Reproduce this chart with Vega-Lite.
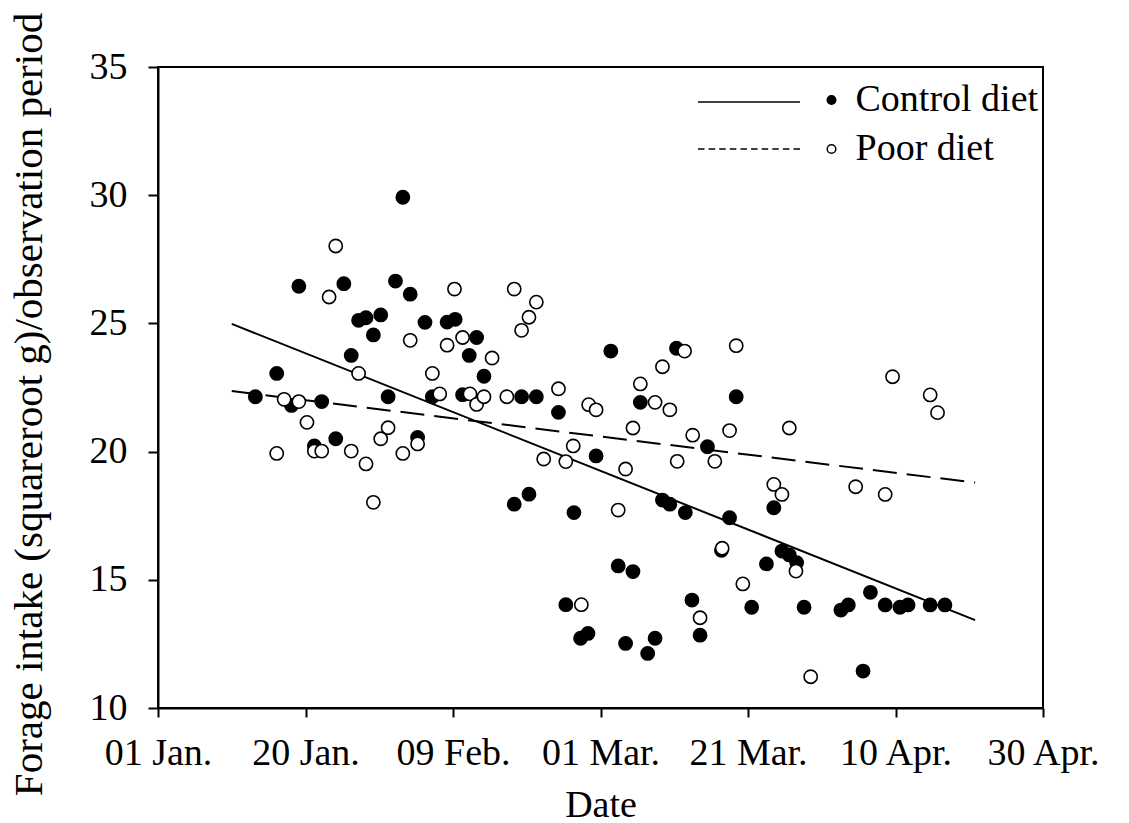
{
  "$schema": "https://vega.github.io/schema/vega-lite/v6.json",
  "width": 885,
  "height": 641,
  "autosize": {"type": "none"},
  "padding": {"left": 158, "top": 67, "right": 86, "bottom": 115},
  "background": "white",
  "config": {
    "view": {"stroke": "black", "strokeWidth": 2},
    "font": "Liberation Serif",
    "axis": {
      "domainColor": "black", "domainWidth": 2, "tickColor": "black", "tickWidth": 2,
      "labelColor": "black", "titleColor": "black", "labelFont": "Liberation Serif", "titleFont": "Liberation Serif",
      "labelFontSize": 38, "titleFontSize": 38, "titleFontWeight": "normal", "grid": false,
      "labelFlush": false, "labelOverlap": false
    },
    "legend": {"labelFont": "Liberation Serif", "labelFontSize": 38, "labelColor": "black", "labelLimit": 500}
  },
  "datasets": {
    "lines": [
      {"diet": "Control diet", "day": 10, "intake": 24.98},
      {"diet": "Control diet", "day": 110.8, "intake": 13.43},
      {"diet": "Poor diet", "day": 10, "intake": 22.36},
      {"diet": "Poor diet", "day": 110.8, "intake": 18.79}
    ],
    "points": [
      {"diet": "Control diet", "day": 13.2, "intake": 22.14},
      {"diet": "Control diet", "day": 16.1, "intake": 23.05},
      {"diet": "Control diet", "day": 18.1, "intake": 21.8},
      {"diet": "Control diet", "day": 19.1, "intake": 26.45},
      {"diet": "Control diet", "day": 21.2, "intake": 20.22},
      {"diet": "Control diet", "day": 22.2, "intake": 21.95},
      {"diet": "Control diet", "day": 24.1, "intake": 20.5},
      {"diet": "Control diet", "day": 25.2, "intake": 26.55},
      {"diet": "Control diet", "day": 26.2, "intake": 23.75},
      {"diet": "Control diet", "day": 27.2, "intake": 25.12},
      {"diet": "Control diet", "day": 28.2, "intake": 25.22},
      {"diet": "Control diet", "day": 29.2, "intake": 24.55},
      {"diet": "Control diet", "day": 30.2, "intake": 25.33},
      {"diet": "Control diet", "day": 31.2, "intake": 22.14},
      {"diet": "Control diet", "day": 32.2, "intake": 26.65},
      {"diet": "Control diet", "day": 33.2, "intake": 29.92},
      {"diet": "Control diet", "day": 34.2, "intake": 26.14},
      {"diet": "Control diet", "day": 35.2, "intake": 20.55},
      {"diet": "Control diet", "day": 36.2, "intake": 25.04},
      {"diet": "Control diet", "day": 37.2, "intake": 22.14},
      {"diet": "Control diet", "day": 39.2, "intake": 25.05},
      {"diet": "Control diet", "day": 40.3, "intake": 25.16},
      {"diet": "Control diet", "day": 41.3, "intake": 22.22},
      {"diet": "Control diet", "day": 42.2, "intake": 23.75},
      {"diet": "Control diet", "day": 43.2, "intake": 24.45},
      {"diet": "Control diet", "day": 44.2, "intake": 22.94},
      {"diet": "Control diet", "day": 48.3, "intake": 17.95},
      {"diet": "Control diet", "day": 49.3, "intake": 22.14},
      {"diet": "Control diet", "day": 50.3, "intake": 18.34},
      {"diet": "Control diet", "day": 51.3, "intake": 22.14},
      {"diet": "Control diet", "day": 54.3, "intake": 21.53},
      {"diet": "Control diet", "day": 55.3, "intake": 14.03},
      {"diet": "Control diet", "day": 56.4, "intake": 17.62},
      {"diet": "Control diet", "day": 57.3, "intake": 12.72},
      {"diet": "Control diet", "day": 58.3, "intake": 12.91},
      {"diet": "Control diet", "day": 59.4, "intake": 19.83},
      {"diet": "Control diet", "day": 61.4, "intake": 23.92},
      {"diet": "Control diet", "day": 62.4, "intake": 15.54},
      {"diet": "Control diet", "day": 63.4, "intake": 12.52},
      {"diet": "Control diet", "day": 64.4, "intake": 15.32},
      {"diet": "Control diet", "day": 65.4, "intake": 21.92},
      {"diet": "Control diet", "day": 66.4, "intake": 12.13},
      {"diet": "Control diet", "day": 67.4, "intake": 12.72},
      {"diet": "Control diet", "day": 68.4, "intake": 18.11},
      {"diet": "Control diet", "day": 69.4, "intake": 17.95},
      {"diet": "Control diet", "day": 70.3, "intake": 24.03},
      {"diet": "Control diet", "day": 71.5, "intake": 17.62},
      {"diet": "Control diet", "day": 72.4, "intake": 14.21},
      {"diet": "Control diet", "day": 73.5, "intake": 12.84},
      {"diet": "Control diet", "day": 74.5, "intake": 20.19},
      {"diet": "Control diet", "day": 76.4, "intake": 16.15},
      {"diet": "Control diet", "day": 77.5, "intake": 17.42},
      {"diet": "Control diet", "day": 78.4, "intake": 22.14},
      {"diet": "Control diet", "day": 80.5, "intake": 13.93},
      {"diet": "Control diet", "day": 82.5, "intake": 15.62},
      {"diet": "Control diet", "day": 83.5, "intake": 17.81},
      {"diet": "Control diet", "day": 84.6, "intake": 16.12},
      {"diet": "Control diet", "day": 85.6, "intake": 15.97},
      {"diet": "Control diet", "day": 86.6, "intake": 15.67},
      {"diet": "Control diet", "day": 87.6, "intake": 13.93},
      {"diet": "Control diet", "day": 92.6, "intake": 13.82},
      {"diet": "Control diet", "day": 93.6, "intake": 14.02},
      {"diet": "Control diet", "day": 95.6, "intake": 11.44},
      {"diet": "Control diet", "day": 96.6, "intake": 14.51},
      {"diet": "Control diet", "day": 98.6, "intake": 14.02},
      {"diet": "Control diet", "day": 100.6, "intake": 13.93},
      {"diet": "Control diet", "day": 101.7, "intake": 14.02},
      {"diet": "Control diet", "day": 104.7, "intake": 14.02},
      {"diet": "Control diet", "day": 106.7, "intake": 14.02},
      {"diet": "Poor diet", "day": 16.1, "intake": 19.93},
      {"diet": "Poor diet", "day": 17.1, "intake": 22.04},
      {"diet": "Poor diet", "day": 19.1, "intake": 21.95},
      {"diet": "Poor diet", "day": 20.2, "intake": 21.14},
      {"diet": "Poor diet", "day": 21.2, "intake": 20.02},
      {"diet": "Poor diet", "day": 22.2, "intake": 20.02},
      {"diet": "Poor diet", "day": 23.2, "intake": 26.03},
      {"diet": "Poor diet", "day": 24.1, "intake": 28.02},
      {"diet": "Poor diet", "day": 26.2, "intake": 20.02},
      {"diet": "Poor diet", "day": 27.2, "intake": 23.05},
      {"diet": "Poor diet", "day": 28.2, "intake": 19.52},
      {"diet": "Poor diet", "day": 29.2, "intake": 18.02},
      {"diet": "Poor diet", "day": 30.2, "intake": 20.5},
      {"diet": "Poor diet", "day": 31.2, "intake": 20.93},
      {"diet": "Poor diet", "day": 33.2, "intake": 19.93},
      {"diet": "Poor diet", "day": 34.2, "intake": 24.34},
      {"diet": "Poor diet", "day": 35.2, "intake": 20.3},
      {"diet": "Poor diet", "day": 37.2, "intake": 23.05},
      {"diet": "Poor diet", "day": 38.2, "intake": 22.25},
      {"diet": "Poor diet", "day": 39.2, "intake": 24.15},
      {"diet": "Poor diet", "day": 40.2, "intake": 26.34},
      {"diet": "Poor diet", "day": 41.3, "intake": 24.45},
      {"diet": "Poor diet", "day": 42.3, "intake": 22.25},
      {"diet": "Poor diet", "day": 43.2, "intake": 21.84},
      {"diet": "Poor diet", "day": 44.2, "intake": 22.14},
      {"diet": "Poor diet", "day": 45.3, "intake": 23.65},
      {"diet": "Poor diet", "day": 47.3, "intake": 22.14},
      {"diet": "Poor diet", "day": 48.3, "intake": 26.34},
      {"diet": "Poor diet", "day": 49.3, "intake": 24.73},
      {"diet": "Poor diet", "day": 50.3, "intake": 25.24},
      {"diet": "Poor diet", "day": 51.3, "intake": 25.83},
      {"diet": "Poor diet", "day": 52.3, "intake": 19.71},
      {"diet": "Poor diet", "day": 54.3, "intake": 22.45},
      {"diet": "Poor diet", "day": 55.3, "intake": 19.61},
      {"diet": "Poor diet", "day": 56.3, "intake": 20.22},
      {"diet": "Poor diet", "day": 57.4, "intake": 14.03},
      {"diet": "Poor diet", "day": 58.4, "intake": 21.83},
      {"diet": "Poor diet", "day": 59.4, "intake": 21.63},
      {"diet": "Poor diet", "day": 62.4, "intake": 17.72},
      {"diet": "Poor diet", "day": 63.4, "intake": 19.32},
      {"diet": "Poor diet", "day": 64.4, "intake": 20.92},
      {"diet": "Poor diet", "day": 65.4, "intake": 22.64},
      {"diet": "Poor diet", "day": 67.4, "intake": 21.92},
      {"diet": "Poor diet", "day": 68.4, "intake": 23.31},
      {"diet": "Poor diet", "day": 69.4, "intake": 21.63},
      {"diet": "Poor diet", "day": 70.4, "intake": 19.62},
      {"diet": "Poor diet", "day": 71.4, "intake": 23.92},
      {"diet": "Poor diet", "day": 72.5, "intake": 20.64},
      {"diet": "Poor diet", "day": 73.5, "intake": 13.52},
      {"diet": "Poor diet", "day": 75.5, "intake": 19.62},
      {"diet": "Poor diet", "day": 76.5, "intake": 16.23},
      {"diet": "Poor diet", "day": 77.5, "intake": 20.82},
      {"diet": "Poor diet", "day": 78.4, "intake": 24.13},
      {"diet": "Poor diet", "day": 79.3, "intake": 14.84},
      {"diet": "Poor diet", "day": 83.5, "intake": 18.72},
      {"diet": "Poor diet", "day": 84.6, "intake": 18.33},
      {"diet": "Poor diet", "day": 85.6, "intake": 20.92},
      {"diet": "Poor diet", "day": 86.5, "intake": 15.34},
      {"diet": "Poor diet", "day": 88.5, "intake": 11.22},
      {"diet": "Poor diet", "day": 94.6, "intake": 18.63},
      {"diet": "Poor diet", "day": 98.6, "intake": 18.33},
      {"diet": "Poor diet", "day": 99.6, "intake": 22.92},
      {"diet": "Poor diet", "day": 104.7, "intake": 22.21},
      {"diet": "Poor diet", "day": 105.7, "intake": 21.52}
    ]
  },
  "encoding": {
    "x": {
      "field": "day", "type": "quantitative",
      "scale": {"domain": [0, 120], "nice": false, "zero": false},
      "axis": {
        "title": "Date",
        "values": [0, 20, 40, 60, 80, 100, 120],
        "labelExpr": "['01 Jan.','20 Jan.','09 Feb.','01 Mar.','21 Mar.','10 Apr.','30 Apr.'][round(datum.value/20)]",
        "tickSize": 9, "labelPadding": 17, "titlePadding": 14
      }
    },
    "y": {
      "field": "intake", "type": "quantitative",
      "scale": {"domain": [10, 35], "nice": false, "zero": false},
      "axis": {
        "title": "Forage intake (squareroot g)/observation period",
        "values": [10, 15, 20, 25, 30, 35],
        "tickSize": 10, "labelPadding": 21, "titlePadding": 39,
        "titleFontSize": 41, "titleY": 337
      }
    }
  },
  "layer": [
    {
      "data": {"name": "lines"},
      "transform": [{"filter": "datum.diet === 'Control diet'"}],
      "mark": {"type": "line", "strokeWidth": 2, "color": "black"},
      "encoding": {}
    },
    {
      "data": {"name": "lines"},
      "transform": [{"filter": "datum.diet === 'Poor diet'"}],
      "mark": {"type": "line", "strokeWidth": 2, "color": "black", "strokeDash": [24, 10]},
      "encoding": {}
    },
    {
      "data": {"name": "points"},
      "mark": {"type": "point", "filled": true, "size": 175, "stroke": "black", "strokeWidth": 1.6, "opacity": 1},
      "encoding": {
        "fill": {
          "field": "diet", "type": "nominal",
          "scale": {"domain": ["Control diet", "Poor diet"], "range": ["black", "white"]},
          "legend": {
            "orient": "none", "legendX": 650.5, "legendY": 10, "title": null,
            "padding": 0, "rowPadding": 7, "labelOffset": 1, "labelLimit": 500,
            "symbolSize": 1936, "symbolStrokeWidth": 1.5, "symbolStrokeColor": "black", "symbolOpacity": 1,
            "encode": {
              "symbols": {
                "update": {
                  "shape": {"signal": "datum.value === 'Control diet' ? 'M-6.068,0.09L-1.432,0.09M0.195,0C0.195,0.1077,0.1077,0.195,0,0.195C-0.1077,0.195,-0.195,0.1077,-0.195,0C-0.195,-0.1077,-0.1077,-0.195,0,-0.195C0.1077,-0.195,0.195,-0.1077,0.195,0Z' : 'M-6.068,0L-5.773,0M-5.586,0L-5.29,0M-5.104,0L-4.808,0M-4.621,0L-4.326,0M-4.139,0L-3.844,0M-3.657,0L-3.361,0M-3.174,0L-2.879,0M-2.692,0L-2.397,0M-2.21,0L-1.914,0M-1.727,0L-1.432,0M0.195,0C0.195,0.1077,0.1077,0.195,0,0.195C-0.1077,0.195,-0.195,0.1077,-0.195,0C-0.195,-0.1077,-0.1077,-0.195,0,-0.195C0.1077,-0.195,0.195,-0.1077,0.195,0Z'"}
                }
              }
            }
          }
        }
      }
    }
  ]
}
